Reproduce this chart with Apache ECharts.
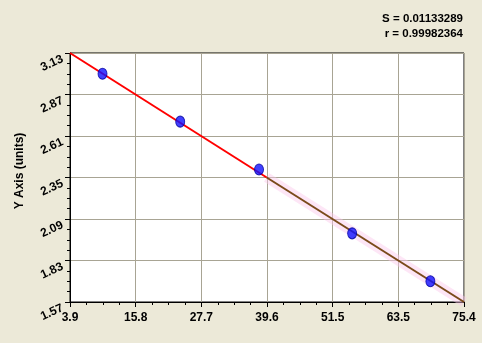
<!DOCTYPE html>
<html><head><meta charset="utf-8">
<script src="https://cdn.jsdelivr.net/npm/echarts@6/dist/echarts.min.js"></script>
<style>html,body{margin:0;padding:0;background:#ece9d8}#c{width:482px;height:343px}</style>
</head><body><div id="c"></div>
<script>
const xTickLabels = ['3.9','15.8','27.7','39.6','51.5','63.5','75.4'];
const yTickLabels = ['1.57','1.83','2.09','2.35','2.61','2.87','3.13'];
const pointX = [9.8, 23.9, 38.2, 55.1, 69.3];
const pointY = [3.00, 2.70, 2.40, 2.00, 1.70];
const fitRedX = [3.9, 39.6];
const fitRedY = [3.13, 2.35];
const fitBrownX = [39.6, 75.4];
const fitBrownY = [2.35, 1.57];
const statS = 'S = 0.01133289';
const statR = 'r = 0.99982364';
const yTitle = 'Y Axis (units)';

const xMin = 3.9, xMax = 75.4, xStep = (xMax - xMin) / 6;
const yMin = 1.57, yMax = 3.13, yStep = (yMax - yMin) / 6;
const pairs = (xs, ys) => xs.map((x, i) => [x, ys[i]]);

const chart = echarts.init(document.getElementById('c'));
chart.setOption({
  backgroundColor: '#ece9d8',
  animation: false,
  grid: { left: 70, right: 18, top: 53, bottom: 41, show: true, backgroundColor: '#fff', borderColor: '#000', borderWidth: 1 },
  graphic: [
    { type: 'text', x: 463, y: 19, style: { text: statS, font: 'bold 11.5px Arial', fill: '#000', textAlign: 'right', textVerticalAlign: 'middle' } },
    { type: 'text', x: 463, y: 34, style: { text: statR, font: 'bold 11.5px Arial', fill: '#000', textAlign: 'right', textVerticalAlign: 'middle' } },
    { type: 'text', x: 20, y: 171, rotation: Math.PI / 2, style: { text: yTitle, font: 'bold 12px Arial', fill: '#000', textAlign: 'center', textVerticalAlign: 'middle' } }
  ],
  xAxis: {
    type: 'value', min: xMin, max: xMax, interval: xStep,
    axisLine: { lineStyle: { color: '#000', width: 1 } },
    axisTick: { show: true, length: 5, lineStyle: { color: '#000' } },
    minorTick: { show: true, splitNumber: 4, length: 3, lineStyle: { color: '#000' } },
    splitLine: { show: true, lineStyle: { color: '#a8a494', width: 1 } },
    axisLabel: { color: '#000', fontFamily: 'Arial', fontWeight: 'bold', fontSize: 12, margin: 10,
      formatter: v => xTickLabels[Math.round((v - xMin) / xStep)] }
  },
  yAxis: {
    type: 'value', min: yMin, max: yMax, interval: yStep,
    axisLine: { lineStyle: { color: '#000', width: 1 } },
    axisTick: { show: true, length: 5, lineStyle: { color: '#000' } },
    minorTick: { show: true, splitNumber: 4, length: 3, lineStyle: { color: '#000' } },
    splitLine: { show: true, lineStyle: { color: '#a8a494', width: 1 } },
    axisLabel: { color: '#000', fontFamily: 'Arial', fontWeight: 'bold', fontSize: 12, rotate: 25, margin: 10,
      verticalAlign: 'top', align: 'right',
      formatter: v => yTickLabels[Math.round((v - yMin) / yStep)] }
  },
  series: [
    { type: 'line', data: pairs(fitBrownX, fitBrownY), symbol: 'none', silent: true,
      lineStyle: { color: 'rgba(250,200,235,0.45)', width: 10 }, z: 1 },
    { type: 'line', data: pairs(fitRedX, fitRedY), symbol: 'none', silent: true,
      lineStyle: { color: '#ff0000', width: 2 }, z: 2 },
    { type: 'line', data: pairs(fitBrownX, fitBrownY), symbol: 'none', silent: true,
      lineStyle: { color: '#7a4a1a', width: 2 }, z: 2 },
    { type: 'scatter', data: pairs(pointX, pointY), symbol: 'circle', symbolSize: [9, 11],
      itemStyle: { color: '#1010ff', borderColor: '#0000a0', borderWidth: 1 }, z: 3 }
  ]
});
</script></body></html>
